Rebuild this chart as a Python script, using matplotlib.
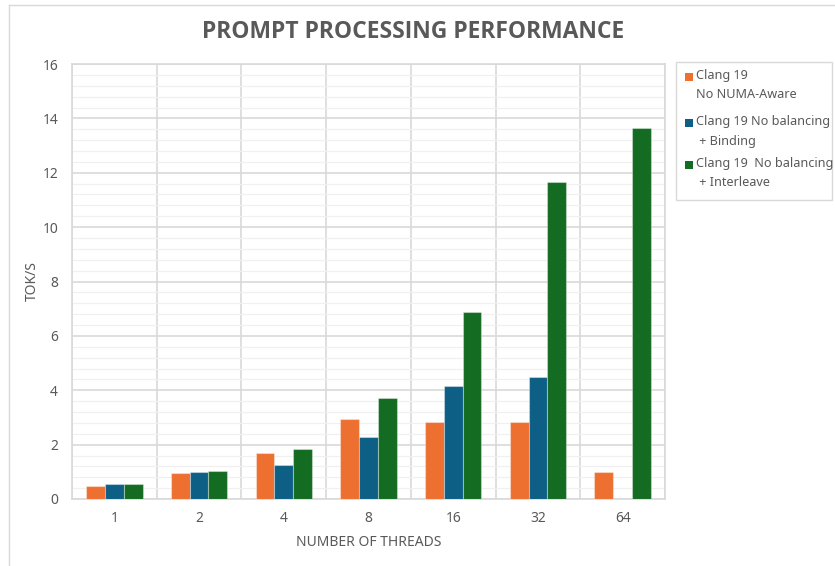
import matplotlib.pyplot as plt
import matplotlib.patches as mpatches
from matplotlib.lines import Line2D
from matplotlib.ticker import MultipleLocator, FixedLocator
import numpy as np

plt.rcParams['font.family'] = ['Noto Sans', 'DejaVu Sans']

threads = ["1", "2", "4", "8", "16", "32", "64"]
no_numa = [0.49, 0.97, 1.69, 2.93, 2.83, 2.83, 0.99]
binding = [0.54, 0.98, 1.24, 2.29, 4.14, 4.47, 0.0]
interleave = [0.54, 1.02, 1.84, 3.71, 6.88, 11.66, 13.64]

series_labels = ["Clang 19\nNo NUMA-Aware",
                 "Clang 19 No balancing\n + Binding",
                 "Clang 19  No balancing\n + Interleave"]
colors = ["#ED7031", "#0E5F86", "#146C22"]

W, H = 835, 566
fig = plt.figure(figsize=(W / 100, H / 100), dpi=100)

# plot area
ax_l, ax_r, ax_t, ax_b = 72, 665, 64, 499
ax = fig.add_axes([ax_l / W, 1 - ax_b / H, (ax_r - ax_l) / W, (ax_b - ax_t) / H])

x = np.arange(len(threads))
bw = 0.222
for i, (vals, c) in enumerate(zip([no_numa, binding, interleave], colors)):
    ax.bar(x + (i - 1) * bw, vals, width=bw, color=c, edgecolor=(1, 1, 1, 0.35),
           linewidth=0.8, zorder=3)

ax.set_xlim(-0.5, len(threads) - 0.5)
ax.set_ylim(0, 16)
ax.yaxis.set_major_locator(MultipleLocator(2))
ax.yaxis.set_minor_locator(MultipleLocator(0.4))
ax.set_xticks(x)
ax.set_xticklabels(threads)
ax.xaxis.set_minor_locator(FixedLocator(np.arange(-0.5, len(threads), 1.0)))

ax.grid(which='major', axis='y', color='#d9d9d9', linewidth=1.2, zorder=0)
ax.grid(which='minor', axis='y', color='#f0f0f0', linewidth=0.9, zorder=0)
ax.grid(which='minor', axis='x', color='#d9d9d9', linewidth=1.2, zorder=0)
ax.grid(which='major', axis='x', visible=False)
ax.tick_params(which='both', length=0, colors='#595959', labelsize=10)
ax.tick_params(axis='y', pad=10)
ax.tick_params(axis='x', pad=9)
for s in ax.spines.values():
    s.set_color('#d9d9d9')
    s.set_linewidth(1.2)

ax.set_xlabel("NUMBER OF THREADS", color='#595959', fontsize=10, labelpad=6)
ax.set_ylabel("TOK/S", color='#595959', fontsize=10, labelpad=2)

fig.text(413 / W, 1 - 32 / H, "PROMPT PROCESSING PERFORMANCE", ha='center', va='center',
         fontsize=16.5, fontweight='bold', color='#595959',
         family=['Liberation Sans Narrow', 'Open Sans', 'DejaVu Sans'])

# figure frame (top and left edges)
fig.add_artist(Line2D([9 / W, 9 / W], [0, 1 - 5 / H], transform=fig.transFigure,
                      color='#d9d9d9', linewidth=1))
fig.add_artist(Line2D([9 / W, 1], [1 - 5 / H, 1 - 5 / H], transform=fig.transFigure,
                      color='#d9d9d9', linewidth=1))

# legend box
lx0, ly0, lx1, ly1 = 676, 62, 832, 200
fig.add_artist(mpatches.Rectangle((lx0 / W, 1 - ly1 / H), (lx1 - lx0) / W, (ly1 - ly0) / H,
                                  transform=fig.transFigure, facecolor='white',
                                  edgecolor='#d9d9d9', linewidth=1))
entry_tops = [77, 123, 165]
for lab, c, yt in zip(series_labels, colors, entry_tops):
    fig.add_artist(mpatches.Rectangle((685 / W, 1 - (yt + 3.5) / H), 7.5 / W, 7.5 / H,
                                      transform=fig.transFigure, facecolor=c,
                                      edgecolor='none'))
    fig.text(696 / W, 1 - (yt - 8.5) / H, lab, ha='left', va='top', fontsize=9.1,
             color='#595959', linespacing=1.7)

fig.savefig("out.png", dpi=100, facecolor='white')
